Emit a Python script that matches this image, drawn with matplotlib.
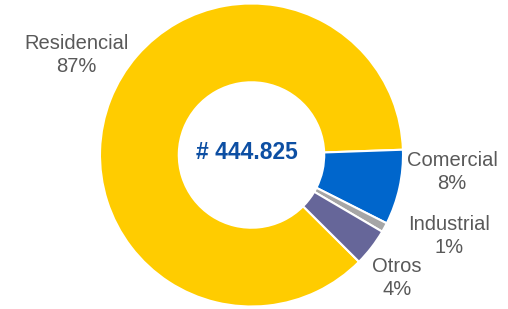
import matplotlib
matplotlib.use("Agg")
import matplotlib.pyplot as plt

categories = ["Residencial", "Comercial", "Industrial", "Otros"]
values = [87, 8, 1, 4]
colors = ["#FFCC00", "#0066CC", "#A6A6A6", "#666699"]
pct_labels = ["87%", "8%", "1%", "4%"]
total_text = "# 444.825"

W, H = 508, 309
fig = plt.figure(figsize=(W / 100, H / 100), dpi=100)
ax = fig.add_axes([0, 0, 1, 1])
ax.set_xlim(0, W)
ax.set_ylim(0, H)
ax.set_aspect("equal")
ax.axis("off")

cx, cy, r = 251.5, H - 155, 151.5
start = 2 + values[0] / sum(values) * 360
ax.pie(values, colors=colors, startangle=start, counterclock=False,
       center=(cx, cy), radius=r,
       wedgeprops=dict(width=r * 0.52, edgecolor="white", linewidth=1.5))
ax.set_xlim(0, W)
ax.set_ylim(0, H)

label_pos = [(76.5, 55), (452, 172), (449, 236), (397, 278)]
for name, pct, (x, y) in zip(categories, pct_labels, label_pos):
    ax.text(x, H - y, f"{name}\n{pct}", ha="center", va="center",
            fontsize=14.5, color="#595959", family="Liberation Sans",
            linespacing=1.3)

ax.text(246.5, H - 152.5, total_text, ha="center", va="center", fontsize=16.5,
        fontweight="bold", color="#0D4FA3", family="Liberation Sans")

fig.savefig("out.png", dpi=100)
